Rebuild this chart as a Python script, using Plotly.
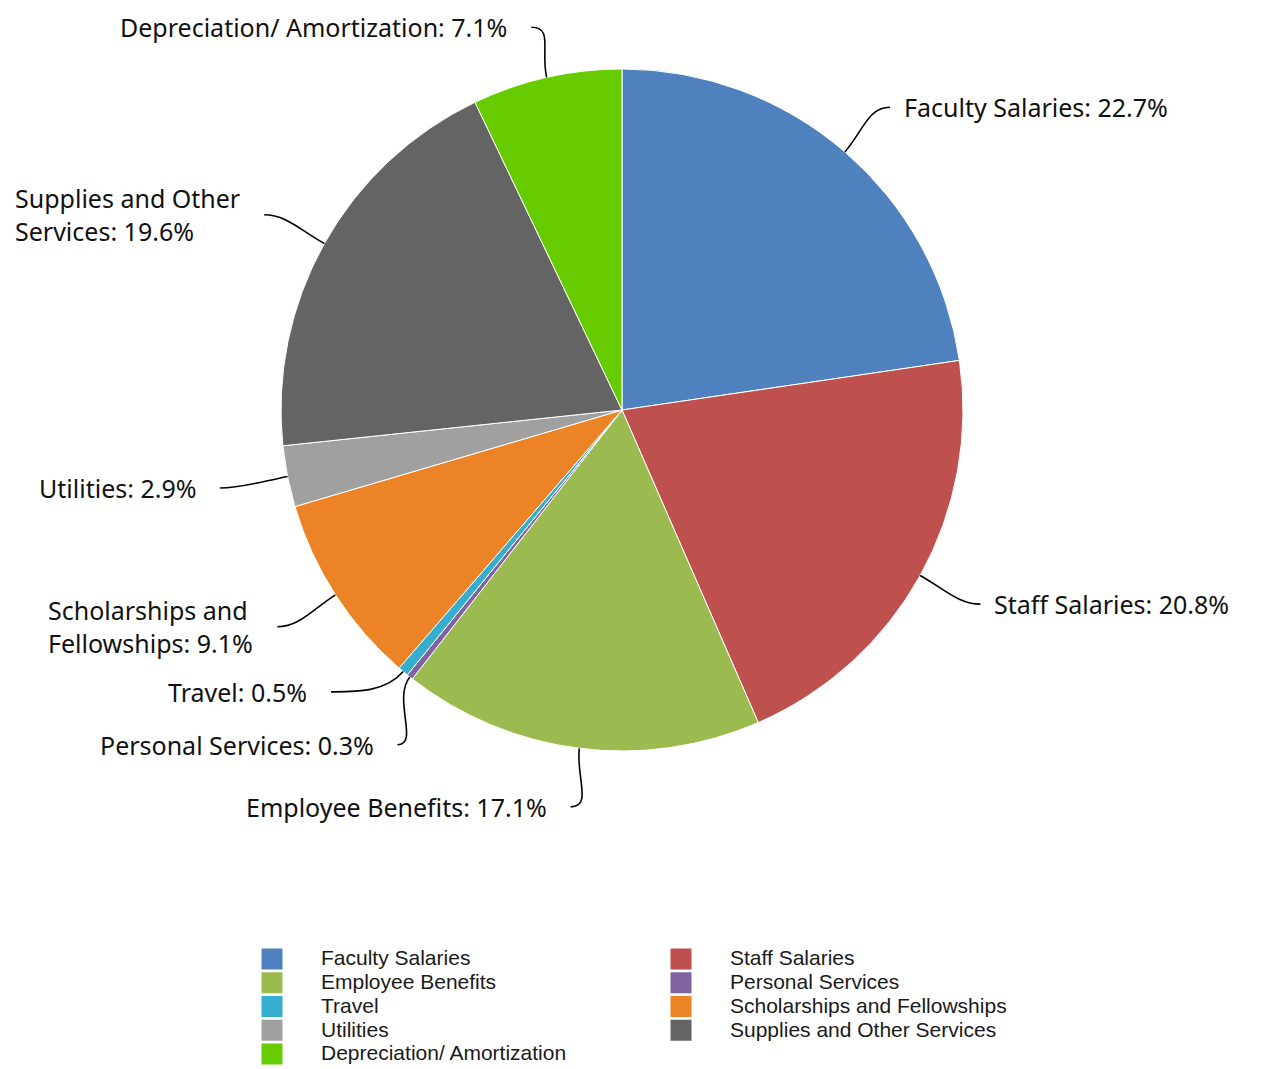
import math
import plotly.graph_objects as go

# ---------------- data ----------------
categories = [
    "Faculty Salaries",
    "Staff Salaries",
    "Employee Benefits",
    "Personal Services",
    "Travel",
    "Scholarships and Fellowships",
    "Utilities",
    "Supplies and Other Services",
    "Depreciation/ Amortization",
]
percent_values = [22.7, 20.8, 17.1, 0.3, 0.5, 9.1, 2.9, 19.6, 7.1]
slice_colors = [
    "#4f81bf", "#be504d", "#9bbb50", "#7f62a0", "#36aed0",
    "#ec8427", "#a0a0a0", "#646464", "#66cc00",
]

# ---------------- layout constants ----------------
W, H = 1261, 1069
MR = 60                            # right margin (forces 2 legend columns)
PW = W - MR                        # plot-area width in px
PAGE_OFF = 8                       # default body margin of the html page
CX, CY, R = 622 - PAGE_OFF, 410 - PAGE_OFF, 341   # pie centre / radius (px)
LABEL_RX, LABEL_RY = 410, 400      # ellipse where label lines end
LABEL_FONT = dict(family="Noto Sans", size=25, color="#111111")
CHAR_W = 0.47                      # rough char width / font size
MIN_SEP = 12.0                     # min angular separation of labels (deg)
LEGEND_TEXT_PX = 21

fig = go.Figure()

fig.add_trace(go.Pie(
    labels=categories,
    values=percent_values,
    marker=dict(colors=slice_colors, line=dict(color="white", width=1)),
    sort=False,
    direction="clockwise",
    rotation=0,
    textinfo="none",
    hoverinfo="label+percent",
    showlegend=False,
    domain=dict(x=[(CX - R) / PW, (CX + R) / PW],
                y=[1 - (CY + R) / H, 1 - (CY - R) / H]),
))

# legend entries (square markers)
for name, col in zip(categories, slice_colors):
    fig.add_trace(go.Scatter(
        x=[None], y=[None], mode="markers",
        name=f'<span style="font-size:{LEGEND_TEXT_PX}px">{name}</span>',
        marker=dict(symbol="square", size=16, color=col,
                    line=dict(color=col, width=5)),
        hoverinfo="skip", showlegend=True,
    ))

# ---------------- outside labels with curved leader lines ----------------
total = sum(percent_values)
mids = []
acc = 0.0
for v in percent_values:
    mids.append((acc + v / 2) / total * 360.0)
    acc += v

phi = mids[:]
for _ in range(100):
    moved = False
    for i in range(len(phi) - 1):
        d = phi[i + 1] - phi[i]
        if d < MIN_SEP - 1e-9:
            adj = (MIN_SEP - d) / 2
            phi[i] -= adj
            phi[i + 1] += adj
            moved = True
    if not moved:
        break


def unit(deg):
    a = math.radians(deg)
    return math.sin(a), -math.cos(a)


def est_width(s):
    return len(s) * CHAR_W * LABEL_FONT["size"]


def wrap(text, avail):
    words = text.split(" ")
    lines, cur = [], ""
    for w in words:
        cand = w if not cur else cur + " " + w
        if est_width(cand) <= avail or not cur:
            cur = cand
        else:
            lines.append(cur)
            cur = w
    lines.append(cur)
    return "<br>".join(lines)


MIN_LABEL_Y = LABEL_FONT["size"] * 1.3 / 2 + 3

annotations = []
shapes = []
for name, v, th, ph in zip(categories, percent_values, mids, phi):
    ux, uy = unit(th)
    x0, y0 = CX + R * ux, CY + R * uy
    c1x, c1y = CX + (R + 28) * ux, CY + (R + 28) * uy
    lx_u, ly_u = unit(ph)
    lx, ly = CX + LABEL_RX * lx_u, CY + LABEL_RY * ly_u
    ly = max(ly, MIN_LABEL_Y)
    right = lx_u > 0
    c2x = lx - 22 if right else lx + 22
    shapes.append(dict(
        type="path", xref="x", yref="y",
        path=f"M {x0:.2f},{y0:.2f} C {c1x:.2f},{c1y:.2f} {c2x:.2f},{ly:.2f} {lx:.2f},{ly:.2f}",
        line=dict(color="black", width=1.6), layer="above",
    ))
    text = f"{name}: {v:.1f}%"
    if right:
        tx = lx + 12
        avail = W - tx
        anchor = "left"
    else:
        tx = lx - 22
        avail = tx
        anchor = "right"
    annotations.append(dict(
        x=tx, y=ly, xref="x", yref="y", text=wrap(text, avail),
        showarrow=False, xanchor=anchor, yanchor="middle", align="left",
        font=LABEL_FONT,
    ))

ITEMW = 88
fig.update_layout(
    width=W, height=H,
    margin=dict(l=0, r=MR, t=0, b=0, autoexpand=False),
    paper_bgcolor="white", plot_bgcolor="white",
    xaxis=dict(range=[0, PW], domain=[0, 1], visible=False, fixedrange=True),
    yaxis=dict(range=[H, 0], domain=[0, 1], visible=False, fixedrange=True),
    shapes=shapes,
    annotations=annotations,
    showlegend=True,
    legend=dict(
        orientation="h", x=(272 - PAGE_OFF - (ITEMW / 2 + 5)) / PW,
        y=1 - (942 - PAGE_OFF) / H, xanchor="left", yanchor="top",
        entrywidth=410 - ITEMW - 16, entrywidthmode="pixels",
        font=dict(family="Liberation Sans, Arial", size=16, color="#1a1a1a"),
        itemwidth=ITEMW, bgcolor="rgba(0,0,0,0)", tracegroupgap=0,
        itemclick=False, itemdoubleclick=False,
    ),
)

fig.write_html("out.html")
